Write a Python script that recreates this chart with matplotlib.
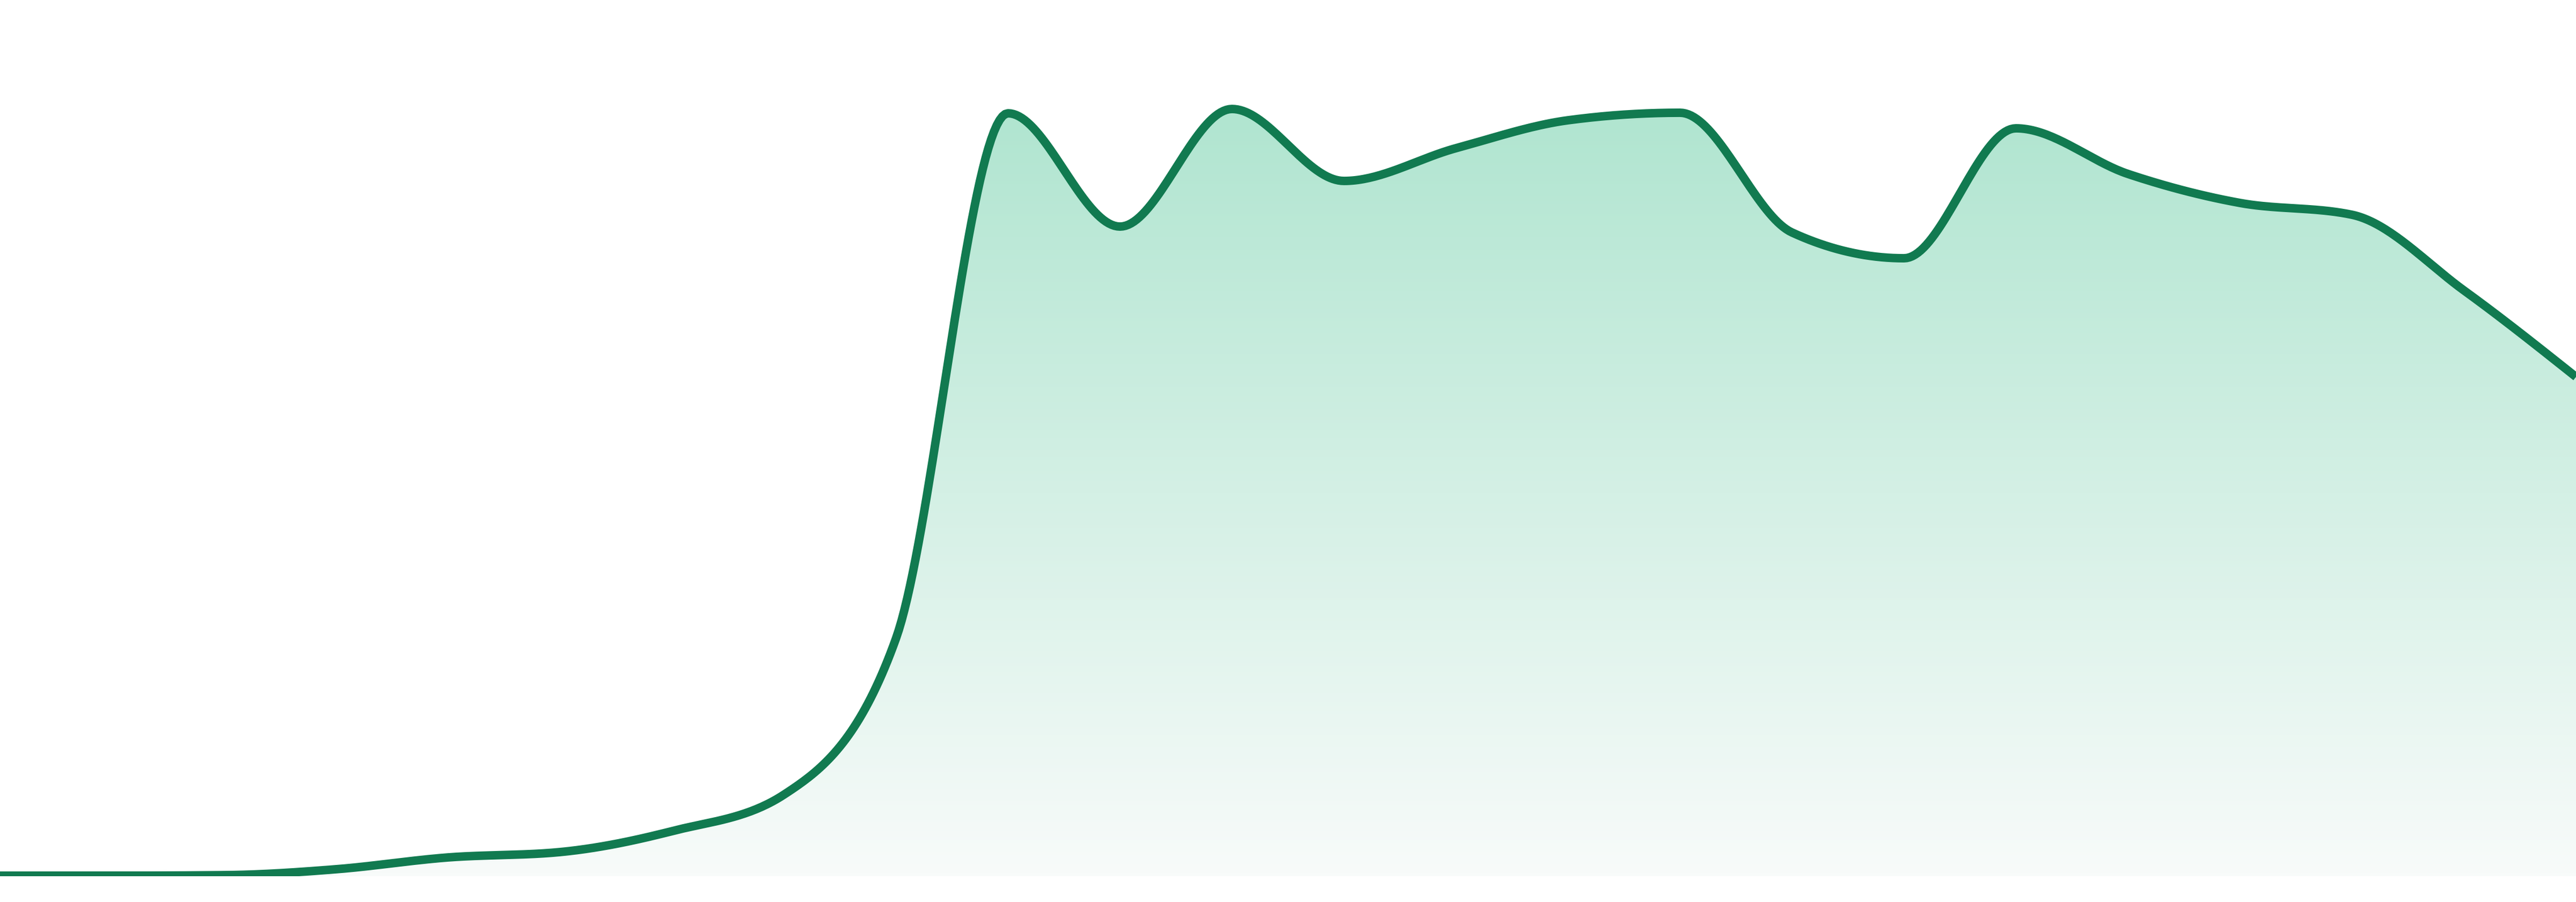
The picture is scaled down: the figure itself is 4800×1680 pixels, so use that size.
import numpy as np
import matplotlib
matplotlib.use("Agg")
import matplotlib.pyplot as plt
from matplotlib.colors import LinearSegmentedColormap

# one value per step
steps = list(range(24))
values = [0.1, 0.1, 0.2, 1.3, 3.5, 4.5, 8.4, 15.2, 44.3, 142.1, 121.0, 142.9,
          129.5, 135.6, 140.8, 142.2, 119.9, 115.1, 139.3, 130.8, 125.4, 123.2,
          109.1, 93.0]

LINE = "#117a50"
FILL_TOP = "#b0e5d0"
FILL_BOTTOM = "#f8fbfa"


def monotone_x(x, y, n=40):
    # same idea as d3.curveMonotoneX
    x = np.asarray(x, float)
    y = np.asarray(y, float)
    h = np.diff(x)
    s = np.diff(y) / h
    t = np.zeros_like(y)
    for i in range(1, len(y) - 1):
        p = (s[i - 1] * h[i] + s[i] * h[i - 1]) / (h[i - 1] + h[i])
        t[i] = (np.sign(s[i - 1]) + np.sign(s[i])) * min(abs(s[i - 1]), abs(s[i]), 0.5 * abs(p))
    t[0] = (3 * s[0] - t[1]) / 2
    t[-1] = (3 * s[-1] - t[-2]) / 2
    xs, ys = [], []
    for i in range(len(h)):
        u = np.linspace(0, 1, n, endpoint=False)
        h00 = 2 * u**3 - 3 * u**2 + 1
        h10 = u**3 - 2 * u**2 + u
        h01 = -2 * u**3 + 3 * u**2
        h11 = u**3 - u**2
        xs.append(x[i] + u * h[i])
        ys.append(h00 * y[i] + h10 * h[i] * t[i] + h01 * y[i + 1] + h11 * h[i] * t[i + 1])
    xs.append([x[-1]])
    ys.append([y[-1]])
    return np.concatenate(xs), np.concatenate(ys)


fig = plt.figure(figsize=(16, 5.6), dpi=300)
ax = fig.add_axes([0, 48 / 1680, 1, 1632 / 1680])
ax.set_xlim(steps[0], steps[-1])
ax.set_ylim(0, 163.2)
ax.axis("off")

xs, ys = monotone_x(steps, values)

top = max(values)
cmap = LinearSegmentedColormap.from_list("g", [FILL_BOTTOM, FILL_TOP])
grad = np.linspace(0, 1, 256).reshape(-1, 1)
im = ax.imshow(grad, extent=[steps[0], steps[-1], 0, top], origin="lower",
               aspect="auto", cmap=cmap, zorder=1)
poly = ax.fill_between(xs, ys, 0, color="none")
clip = poly.get_paths()[0]
im.set_clip_path(clip, transform=ax.transData)

ax.plot(xs, ys, color=LINE, lw=3.8, solid_capstyle="butt", zorder=3)

fig.savefig("out.png", dpi=300, facecolor="white")
